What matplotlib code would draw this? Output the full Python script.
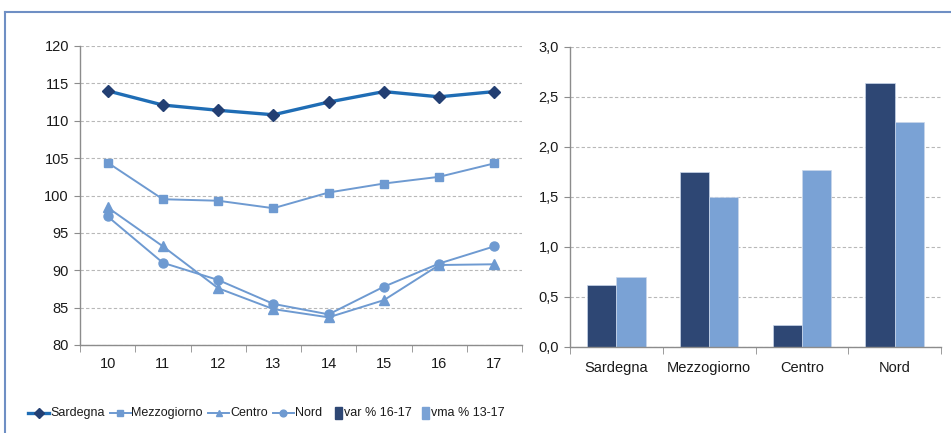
import matplotlib
matplotlib.use("Agg")
import matplotlib.pyplot as plt
from matplotlib.lines import Line2D
from matplotlib.patches import Rectangle
import numpy as np

years = ["10", "11", "12", "13", "14", "15", "16", "17"]
sardegna = [114.0, 112.1, 111.4, 110.8, 112.5, 113.9, 113.2, 113.9]
mezzogiorno = [104.4, 99.5, 99.3, 98.3, 100.4, 101.6, 102.5, 104.3]
centro = [98.4, 93.2, 87.6, 84.8, 83.7, 86.0, 90.7, 90.8]
nord = [97.2, 91.0, 88.7, 85.5, 84.1, 87.8, 90.9, 93.2]

regions = ["Sardegna", "Mezzogiorno", "Centro", "Nord"]
var_16_17 = [0.62, 1.75, 0.22, 2.64]
vma_13_17 = [0.70, 1.50, 1.77, 2.25]

plt.rcParams['font.family'] = ['Liberation Sans', 'DejaVu Sans']

W, H = 951, 433
fig = plt.figure(figsize=(W / 100, H / 100), dpi=100)

dark_line = "#1F6DB5"
dark_marker = "#233F73"
light = "#6E9AD1"
bar_dark = "#2E4774"
bar_light = "#7AA2D5"
grid_c = "#B8B8B8"
spine_c = "#8C8C8C"
txt_c = "#1A1A1A"

# frame
fig.add_artist(Line2D([5 / W, 5 / W], [0, 1 - 12 / H], color="#6F8FC4", lw=1.5, transform=fig.transFigure))
fig.add_artist(Line2D([5 / W, 1], [1 - 12 / H, 1 - 12 / H], color="#6F8FC4", lw=1.5, transform=fig.transFigure))

# left axes
ax1 = fig.add_axes([80 / W, (H - 345) / H, 442 / W, 299 / H])
x = np.arange(len(years))
series = [
    ("Sardegna", sardegna, dict(color=dark_line, lw=2.4, marker="D", ms=6.5, mfc=dark_marker, mec=dark_marker, zorder=5)),
    ("Mezzogiorno", mezzogiorno, dict(color=light, lw=1.4, marker="s", ms=6, mfc=light, mec=light)),
    ("Centro", centro, dict(color=light, lw=1.4, marker="^", ms=6.5, mfc=light, mec=light)),
    ("Nord", nord, dict(color=light, lw=1.4, marker="o", ms=6.5, mfc=light, mec=light)),
]
for name, vals, st in series:
    ax1.plot(x, vals, label=name, **st)
ax1.set_xlim(-0.5, len(years) - 0.5)
ax1.set_ylim(80, 120)
ax1.set_yticks(np.arange(80, 121, 5))
ax1.set_xticks(x)
ax1.set_xticklabels(years)
ax1.set_xticks(np.arange(-0.5, len(years), 1), minor=True)
ax1.tick_params(axis="x", which="major", length=0, pad=9, labelsize=10.5, labelcolor=txt_c)
ax1.tick_params(axis="x", which="minor", length=5, color=spine_c, direction="out")
ax1.tick_params(axis="y", length=4, color=spine_c, direction="out", labelsize=10.5, pad=4, labelcolor=txt_c)
ax1.grid(axis="y", color=grid_c, ls=(0, (3, 2)), lw=0.8)
ax1.set_axisbelow(True)
for s in ["top", "right"]:
    ax1.spines[s].set_visible(False)
for s in ["left", "bottom"]:
    ax1.spines[s].set_color(spine_c)
    ax1.spines[s].set_linewidth(1.0)

# right axes
ax2 = fig.add_axes([570 / W, (H - 347) / H, 371 / W, 300 / H])
xr = np.arange(len(regions))
bw = 0.315
ax2.bar(xr - bw / 2, var_16_17, width=bw, color=bar_dark, edgecolor="#C9D6EA", lw=0.5, label="var % 16-17")
ax2.bar(xr + bw / 2, vma_13_17, width=bw, color=bar_light, edgecolor="#C9D6EA", lw=0.5, label="vma % 13-17")
ax2.set_xlim(-0.5, len(regions) - 0.5)
ax2.set_ylim(0, 3.0)
yt = np.arange(0, 3.01, 0.5)
ax2.set_yticks(yt)
ax2.set_yticklabels([f"{v:.1f}".replace(".", ",") for v in yt])
ax2.set_xticks(xr)
ax2.set_xticklabels(regions)
ax2.set_xticks(np.arange(-0.5, len(regions), 1), minor=True)
ax2.tick_params(axis="x", which="major", length=0, pad=10, labelsize=10.5, labelcolor=txt_c)
ax2.tick_params(axis="x", which="minor", length=5, color=spine_c, direction="out")
ax2.tick_params(axis="y", length=4, color=spine_c, direction="out", labelsize=10.5, pad=4, labelcolor=txt_c)
ax2.grid(axis="y", color=grid_c, ls=(0, (3, 2)), lw=0.8)
ax2.set_axisbelow(True)
for s in ["top", "right"]:
    ax2.spines[s].set_visible(False)
for s in ["left", "bottom"]:
    ax2.spines[s].set_color(spine_c)
    ax2.spines[s].set_linewidth(1.0)

# manual legend, laid out left to right without overlaps
renderer = fig.canvas.get_renderer()
ly = 1 - 413 / H
lfs = 9
cursor = 0
line_starts = [28, 99, 184, 243]
for (name, vals, st), xs in zip(series, line_starts):
    x0 = max(xs, cursor + 5)
    x1 = x0 + 21
    fig.add_artist(Line2D([x0 / W, x1 / W], [ly, ly], color=st["color"], lw=st["lw"], transform=fig.transFigure))
    fig.add_artist(Line2D([(x0 + x1) / 2 / W], [ly], marker=st["marker"], ms=st["ms"] * 0.75,
                          mfc=st["mfc"], mec=st["mec"], ls="none", transform=fig.transFigure))
    t = fig.text((x1 + 1) / W, ly, name, fontsize=lfs, color=txt_c, va="center", ha="left")
    cursor = t.get_window_extent(renderer).x1

bar_keys = [(335, bar_dark, "var % 16-17"), (419, bar_light, "vma % 13-17")]
for bx, col, name in bar_keys:
    b0 = max(bx, cursor + 10)
    fig.add_artist(Rectangle((b0 / W, ly - 6 / H), 7 / W, 12 / H, color=col, transform=fig.transFigure))
    t = fig.text((b0 + 9) / W, ly, name, fontsize=lfs, color=txt_c, va="center", ha="left")
    cursor = t.get_window_extent(renderer).x1

fig.savefig("out.png", dpi=100)
